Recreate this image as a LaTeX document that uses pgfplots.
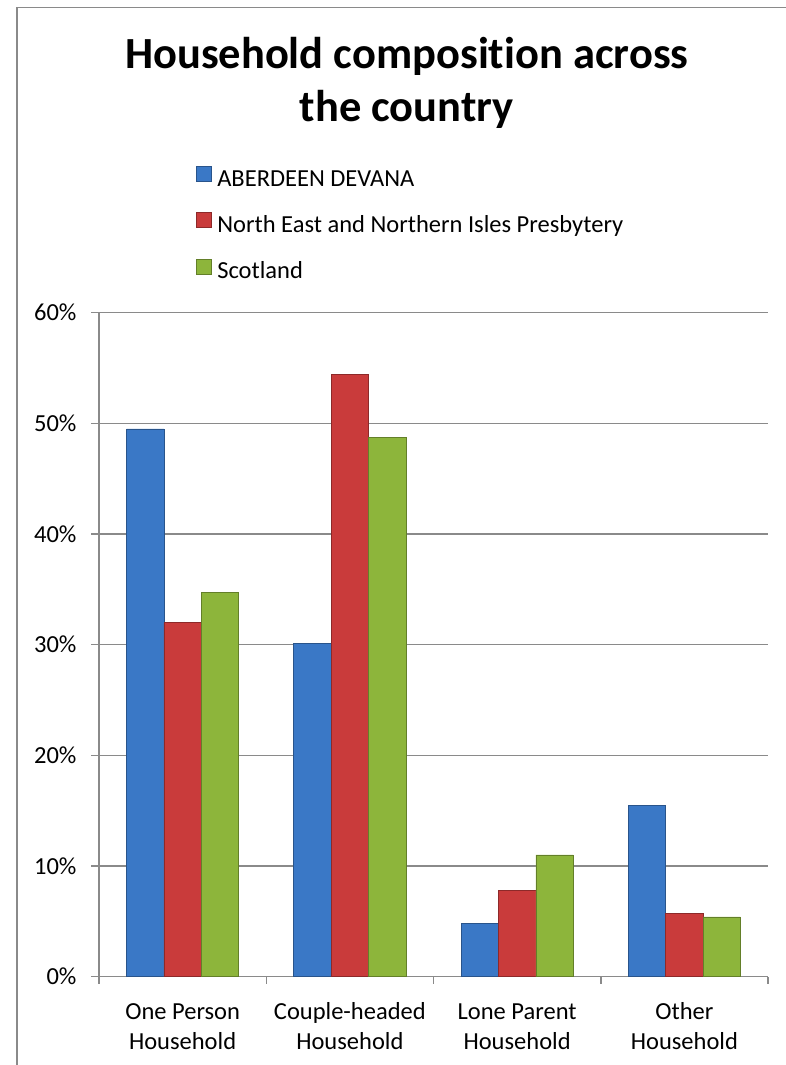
\documentclass[border=0pt]{standalone}
\usepackage{fontspec}
\setmainfont{Carlito}[Ligatures={NoCommon,NoContextual}]
\usepackage{pgfplots}
\pgfplotsset{compat=1.18}

\definecolor{gridgray}{HTML}{8A8A8A}
\definecolor{blueM}{HTML}{3A78C6}
\definecolor{redM}{HTML}{C93B3B}
\definecolor{greenM}{HTML}{8DB53B}

\newcommand{\lbl}{\fontsize{24.5bp}{30bp}\selectfont}

\pgfplotsset{
  blueb/.style={draw=blueM!70!black, line width=0.6bp, fill=blueM},
  redb/.style={draw=redM!70!black, line width=0.6bp, fill=redM},
  greenb/.style={draw=greenM!70!black, line width=0.6bp, fill=greenM},
}

\begin{document}
\begin{tikzpicture}
\useasboundingbox (0bp,0bp) rectangle (786bp,1065bp);
% chart frame (cropped on right and bottom)
\draw[gridgray, line width=1.8bp] (17bp,-5bp) -- (17bp,1057.5bp) -- (800bp,1057.5bp);

\node[anchor=base, font=\fontsize{44.5bp}{52bp}\selectfont\bfseries] at (406.7bp,996.7bp) {Household composition across};
\node[anchor=base, font=\fontsize{44.5bp}{52bp}\selectfont\bfseries] at (406.7bp,943bp) {the country};

\begin{axis}[
  at={(99bp,88.3bp)}, anchor=south west,
  scale only axis, width=669bp, height=664bp,
  ybar=0pt, bar width=37.4bp,
  xmin=-0.5, xmax=3.5, ymin=0, ymax=60,
  axis x line*=bottom, axis y line*=left,
  axis line style={-, gridgray, line width=1.5bp},
  xtick={0,1,2,3},
  xticklabels={{\strut One Person\\\strut Household},{\strut Couple-headed\\\strut Household},{\strut Lone Parent\\\strut Household},{\strut Other\\\strut Household}},
  minor xtick={-0.5,0.5,1.5,2.5,3.5},
  major x tick style={draw=none},
  minor x tick style={gridgray, line width=1.5bp},
  minor tick length=7bp,
  ytick={0,10,20,30,40,50,60},
  yticklabels={0\%,10\%,20\%,30\%,40\%,50\%,60\%},
  major y tick style={gridgray, line width=1.5bp},
  major tick length=8bp,
  tick align=outside,
  ymajorgrids, grid style={gridgray, line width=1.5bp},
  xticklabel style={font=\lbl, align=center, anchor=north, yshift=-10bp},
  yticklabel style={font=\lbl, anchor=east, xshift=-11bp},
  legend cell align=left,
  legend image code/.code={\draw[#1, line width=0.4bp] (0bp,-1bp) rectangle (15bp,14bp);},
  legend style={at={(0.145,1.2209)}, anchor=north west, draw=none, fill=none,
    inner sep=0pt, font=\lbl, row sep=21bp,
    nodes={inner sep=0pt, text height=17bp, text depth=5bp},
    /tikz/every odd column/.append style={column sep=5.7bp}},
]
\addplot[blueb] coordinates {(0,49.5) (1,30.1) (2,4.8) (3,15.5)};
\addplot[redb] coordinates {(0,32.0) (1,54.4) (2,7.8) (3,5.7)};
\addplot[greenb] coordinates {(0,34.7) (1,48.7) (2,11.0) (3,5.4)};
\legend{ABERDEEN DEVANA, North East and Northern Isles Presbytery, Scotland}
\end{axis}
\end{tikzpicture}
\end{document}
